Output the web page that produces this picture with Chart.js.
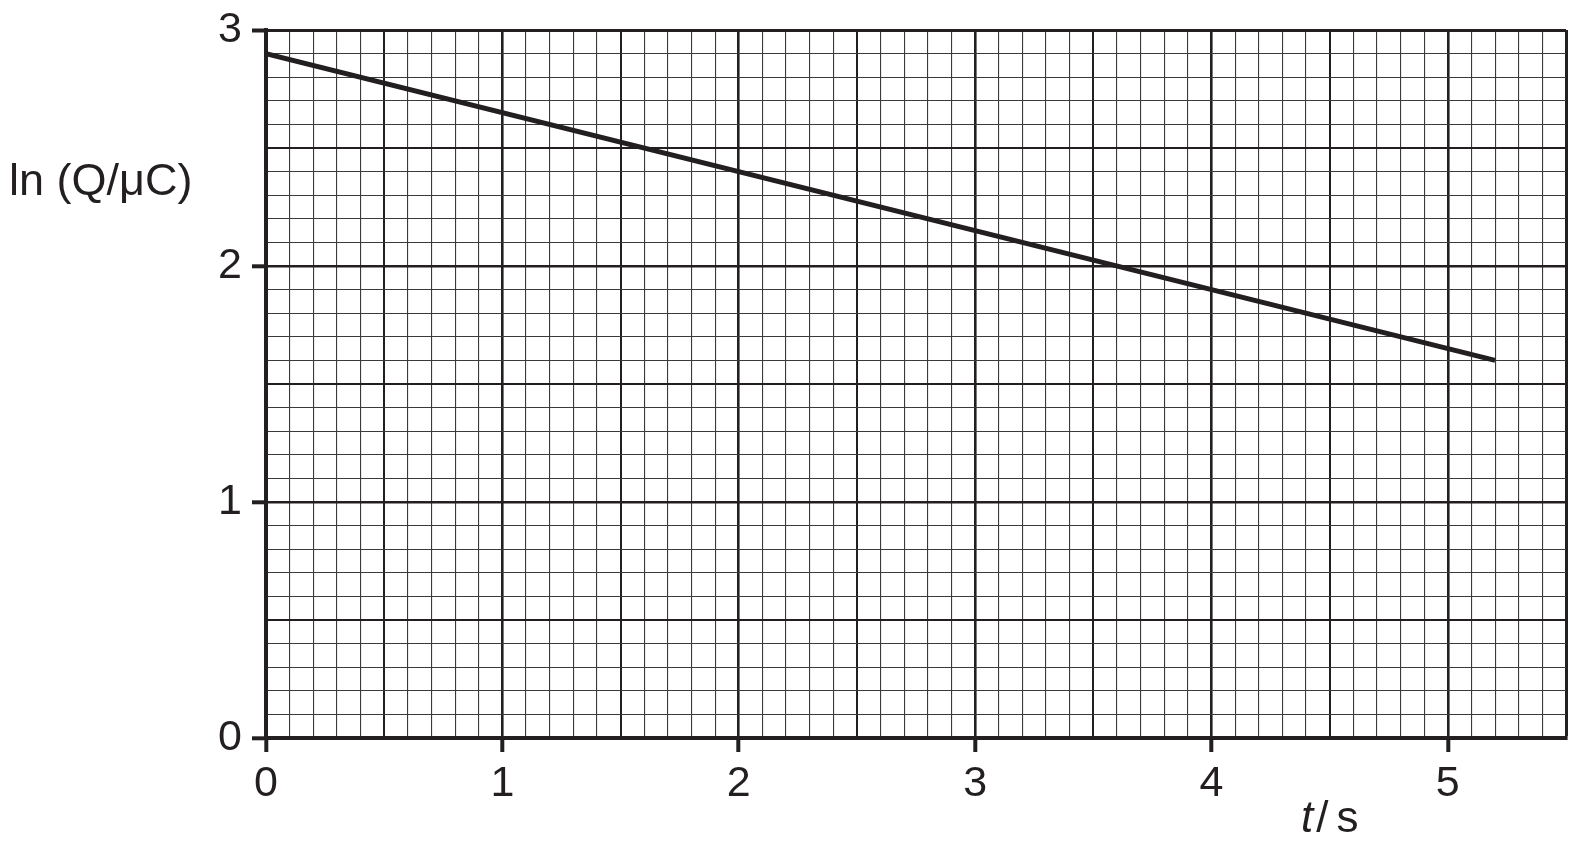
<!DOCTYPE html>
<html>
<head>
<meta charset="utf-8">
<script src="https://cdn.jsdelivr.net/npm/chart.js@4/dist/chart.umd.min.js"></script>
<style>
  body { margin: 0; background: #fff; }
  #wrap { width: 1580px; height: 841px; }
</style>
</head>
<body>
<div id="wrap"><canvas id="lnChart" width="1580" height="841"></canvas></div>
<script>
// data
const tValues = [0, 5.2];
const lnQValues = [2.9, 1.6];
const xTickLabels = [0, 1, 2, 3, 4, 5];
const yTickLabels = [0, 1, 2, 3];

const ink = '#231f20';
const font = '"Liberation Sans", Arial, Helvetica, sans-serif';

function kind(v) {
    const r = Math.round(v * 10);
    if (r % 10 === 0) return 'major';
    if (r % 5 === 0) return 'half';
    return 'minor';
}

function lineWidthFor(v, frameAt) {
    if (Math.abs(v - frameAt) < 1e-6) return 3;
    const k = kind(v);
    if (k === 'major') return 2.6;
    if (k === 'half') return 2;
    return 1.1;
}

function colorFor(v) {
    return kind(v) === 'minor' ? '#3a3a3a' : ink;
}

function tickWidthFor(v, labels) {
    return labels.some(l => Math.abs(l - v) < 1e-6) ? 4 : 0;
}

function labelFor(v, labels) {
    const hit = labels.find(l => Math.abs(l - v) < 1e-6);
    return hit === undefined ? '' : String(hit);
}

// axis titles drawn flat, like on the printed sheet
const axisTitles = {
    id: 'axisTitles',
    afterDraw(chart) {
        const c = chart.ctx;
        c.save();
        c.fillStyle = ink;
        c.textBaseline = 'alphabetic';
        c.textAlign = 'left';
        c.font = '45px ' + font;
        c.fillText('ln (Q/\u03BCC)', 9, 195);

        let x = 1301;
        c.font = 'italic 44px ' + font;
        c.fillText('t', x, 832);
        x += c.measureText('t').width + 3;
        c.font = '44px ' + font;
        c.fillText('/', x, 832);
        x += c.measureText('/').width + 8;
        c.fillText('s', x, 832);
        c.restore();
    }
};

new Chart(document.getElementById('lnChart').getContext('2d'), {
    type: 'line',
    data: {
        datasets: [{
            data: tValues.map((t, i) => ({ x: t, y: lnQValues[i] })),
            borderColor: ink,
            borderWidth: 5,
            pointRadius: 0,
            fill: false
        }]
    },
    options: {
        responsive: false,
        animation: false,
        devicePixelRatio: 1,
        layout: { padding: { top: 30, right: 14, left: 0, bottom: 0 } },
        plugins: {
            legend: { display: false },
            tooltip: { enabled: false }
        },
        scales: {
            x: {
                type: 'linear',
                min: 0,
                max: 5.5,
                afterFit: axis => { axis.height = 103; },
                border: { color: ink, width: 4 },
                grid: {
                    color: ctx => colorFor(ctx.tick.value),
                    lineWidth: ctx => lineWidthFor(ctx.tick.value, 5.5),
                    tickLength: 14,
                    tickColor: ink,
                    tickWidth: ctx => tickWidthFor(ctx.tick.value, xTickLabels)
                },
                ticks: {
                    stepSize: 0.1,
                    autoSkip: false,
                    maxRotation: 0,
                    padding: 6,
                    color: ink,
                    font: { family: font, size: 43 },
                    callback: v => labelFor(v, xTickLabels)
                }
            },
            y: {
                type: 'linear',
                min: 0,
                max: 3,
                afterFit: axis => { axis.width = 266; },
                border: { color: ink, width: 4 },
                grid: {
                    color: ctx => colorFor(ctx.tick.value),
                    lineWidth: ctx => lineWidthFor(ctx.tick.value, 3),
                    tickLength: 14,
                    tickColor: ink,
                    tickWidth: ctx => tickWidthFor(ctx.tick.value, yTickLabels)
                },
                ticks: {
                    stepSize: 0.1,
                    autoSkip: false,
                    padding: 10,
                    color: ink,
                    font: { family: font, size: 43, lineHeight: 0.9 },
                    callback: v => labelFor(v, yTickLabels)
                }
            }
        }
    },
    plugins: [axisTitles]
});
</script>
</body>
</html>
